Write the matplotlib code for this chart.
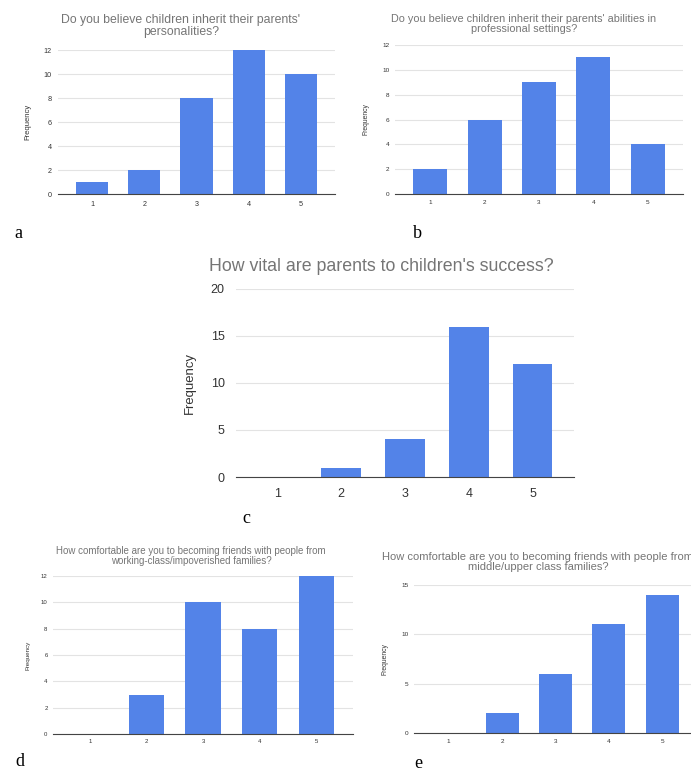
import matplotlib.pyplot as plt
import numpy as np

# respostas (escala 1-5) e frequencias de cada pergunta
escala = [1, 2, 3, 4, 5]
freq_a = [1, 2, 8, 12, 10]
freq_b = [2, 6, 9, 11, 4]
freq_c = [0, 1, 4, 16, 12]
freq_d = [0, 3, 10, 8, 12]
freq_e = [0, 2, 6, 11, 14]

titulos = [
    "Do you believe children inherit their parents'\npersonalities?",
    "Do you believe children inherit their parents' abilities in\nprofessional settings?",
    "How vital are parents to children's success?",
    "How comfortable are you to becoming friends with people from\nworking-class/impoverished families?",
    "How comfortable are you to becoming friends with people from\nmiddle/upper class families?",
]
letras = ['a', 'b', 'c', 'd', 'e']

W, H = 691, 774
azul = '#5383e8'
cinza = '#757575'

fig = plt.figure(figsize=(W / 100, H / 100), dpi=100)
plt.rcParams['font.family'] = ['Liberation Sans', 'DejaVu Sans']


def eixo(x0, y0, x1, y1):
    # posicao em pixels da imagem -> fracao da figura
    return fig.add_axes([x0 / W, 1 - y1 / H, (x1 - x0) / W, (y1 - y0) / H])


# (area do grafico, ymax, yticks, fonte ticks, titulo x/y/fonte, ylabel x, letra x/y)
paineis = [
    dict(box=(58, 50, 335, 194), dados=freq_a, ymax=12, ticks=range(0, 13, 2), fs=5.2,
         tx=181, ty=26, tfs=8.8, lx=28, let=(14, 238)),
    dict(box=(395, 45, 683, 194), dados=freq_b, ymax=12, ticks=range(0, 13, 2), fs=4.6,
         tx=524, ty=24, tfs=7.8, lx=366, let=(413, 238)),
    dict(box=(236, 289, 574, 477), dados=freq_c, ymax=20, ticks=range(0, 21, 5), fs=9,
         tx=381, ty=267, tfs=12.8, lx=190, let=(242, 523)),
    dict(box=(53, 576, 353, 734), dados=freq_d, ymax=12, ticks=range(0, 13, 2), fs=4.3,
         tx=191, ty=556, tfs=7.0, lx=28, let=(15, 766)),
    dict(box=(414, 585, 697, 733), dados=freq_e, ymax=15, ticks=range(0, 16, 5), fs=4.6,
         tx=538, ty=562, tfs=8.0, lx=385, let=(414, 768)),
]

for p, titulo, letra in zip(paineis, titulos, letras):
    ax = eixo(*p['box'])
    ax.bar(escala, p['dados'], width=0.62, color=azul, zorder=3)
    ax.set_xlim(0.35, 5.65)
    ax.set_ylim(0, p['ymax'])
    ax.set_xticks(escala)
    ax.set_yticks(list(p['ticks']))
    ax.grid(axis='y', color='#e3e3e3', linewidth=0.8, zorder=0)
    for s in ['top', 'right', 'left']:
        ax.spines[s].set_visible(False)
    ax.spines['bottom'].set_color('#444444')
    ax.spines['bottom'].set_linewidth(0.8)
    ax.spines['bottom'].set_zorder(4)
    ax.tick_params(length=0, labelsize=p['fs'], colors='#333333', pad=p['fs'] * 0.9)

    fig.text(p['tx'] / W, 1 - p['ty'] / H, titulo, ha='center', va='center',
             fontsize=p['tfs'], color=cinza, linespacing=0.95)
    y0, y1 = p['box'][1], p['box'][3]
    fig.text(p['lx'] / W, 1 - (y0 + y1) / 2 / H, 'Frequency', rotation=90,
             ha='center', va='center', fontsize=p['fs'] * 1.05, color='#333333')
    fig.text(p['let'][0] / W, 1 - p['let'][1] / H, letra, ha='left', va='baseline',
             fontsize=13, family='Liberation Serif', color='black')

plt.savefig('out.png', dpi=100)
